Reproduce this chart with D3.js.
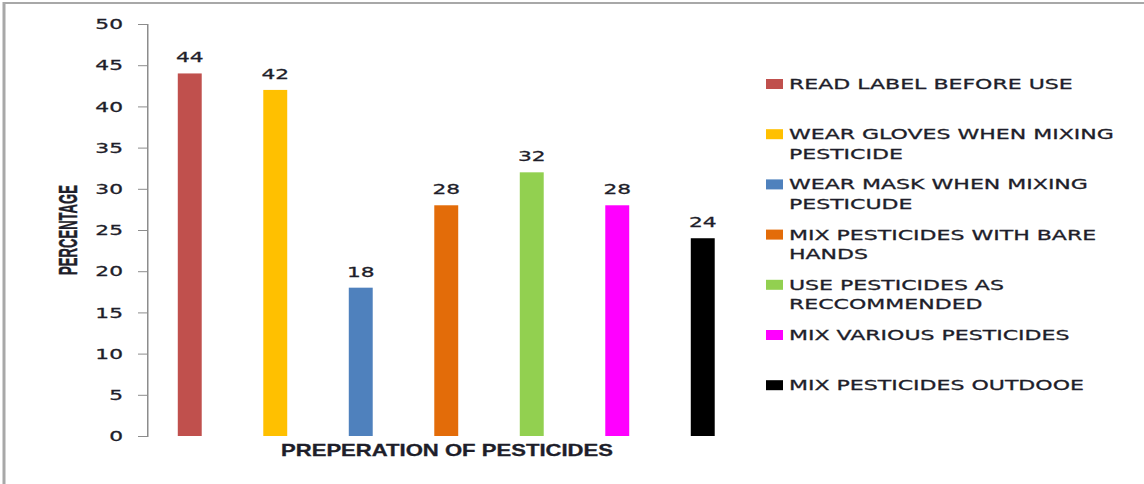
<!DOCTYPE html>
<html>
<head>
<meta charset="utf-8">
<script src="https://cdn.jsdelivr.net/npm/d3@7"></script>
<style>
body { margin: 0; background: #fff; }
text { font-family: "DejaVu Sans", Verdana, sans-serif; fill: #1e1e2a; stroke: #1e1e2a; stroke-width: 0.3px; }
</style>
</head>
<body>
<div id="graph1"></div>
<script>
// data
var categories = ["READ LABEL BEFORE USE", "WEAR GLOVES WHEN MIXING PESTICIDE", "WEAR MASK WHEN MIXING PESTICUDE",
  "MIX PESTICIDES WITH BARE HANDS", "USE PESTICIDES AS RECCOMMENDED", "MIX VARIOUS PESTICIDES", "MIX PESTICIDES OUTDOOE"];
var values = [44, 42, 18, 28, 32, 28, 24];
var colors = ["#C0504D", "#FFC000", "#4F81BD", "#E36C09", "#92D050", "#FF00FF", "#000000"];
var legendLines = [
  ["READ LABEL BEFORE USE"],
  ["WEAR GLOVES WHEN MIXING", "PESTICIDE"],
  ["WEAR MASK WHEN MIXING", "PESTICUDE"],
  ["MIX PESTICIDES WITH BARE", "HANDS"],
  ["USE PESTICIDES AS", "RECCOMMENDED"],
  ["MIX VARIOUS PESTICIDES"],
  ["MIX PESTICIDES OUTDOOE"]
];
var yTicks = [0, 5, 10, 15, 20, 25, 30, 35, 40, 45, 50];
var xTitle = "PREPERATION OF PESTICIDES";
var yTitle = "PERCENTAGE";

var W = 1144, H = 484;
var sx = 1.5; // the original picture is stretched sideways
var innerW = W / sx;

var svg = d3.select("#graph1")
  .append("svg")
    .attr("width", W)
    .attr("height", H);

var root = svg.append("g")
    .attr("transform", "scale(" + sx + ",1)");

// frame
root.append("path")
    .attr("d", "M" + (4 / sx) + "," + H + "V3H" + innerW)
    .attr("fill", "none")
    .attr("stroke", "#a8a8a8")
    .attr("stroke-width", 2);

var axisX = 147 / sx;
var plotTop = 24, plotBottom = 436;

var y = d3.scaleLinear()
    .domain([0, 50])
    .range([plotBottom, plotTop]);

var step = 85.5 / sx;
var x = d3.scaleBand()
    .domain(categories)
    .range([axisX, axisX + step * categories.length])
    .paddingInner(0.72)
    .paddingOuter(0.36);

var yAxis = root.append("g")
    .attr("transform", "translate(" + axisX + ",0)")
    .call(d3.axisLeft(y).tickValues(yTicks).tickSize(6).tickPadding(10));
yAxis.selectAll("path, line").attr("stroke", "#8c8c8c");
yAxis.selectAll("text")
    .style("font-family", "DejaVu Sans, Verdana, sans-serif")
    .style("font-size", "14.5px")
    .attr("fill", "#1e1e2a");

// bars
root.append("g")
  .selectAll("rect")
  .data(values)
  .enter().append("rect")
    .attr("x", function(d, i) { return x(categories[i]); })
    .attr("y", function(d) { return y(d); })
    .attr("width", x.bandwidth())
    .attr("height", function(d) { return y(0) - y(d); })
    .attr("fill", function(d, i) { return colors[i]; });

// value labels
root.append("g")
  .selectAll("text")
  .data(values)
  .enter().append("text")
    .attr("x", function(d, i) { return x(categories[i]) + x.bandwidth() / 2; })
    .attr("y", function(d) { return y(d) - 11; })
    .attr("text-anchor", "middle")
    .style("font-size", "14.5px")
    .text(function(d) { return d; });

// legend
var legend = root.append("g");
var item = legend.selectAll("g")
  .data(legendLines)
  .enter().append("g")
    .attr("transform", function(d, i) { return "translate(" + (766 / sx) + "," + (89 + i * 50.2) + ")"; });

item.append("rect")
    .attr("x", 0)
    .attr("y", -10)
    .attr("width", 17 / sx)
    .attr("height", 10)
    .attr("fill", function(d, i) { return colors[i]; });

item.append("text")
    .attr("x", 23 / sx)
    .style("font-size", "14.7px")
    .selectAll("tspan")
    .data(function(d) { return d; })
    .enter().append("tspan")
      .attr("x", 23 / sx)
      .attr("dy", function(d, i) { return i ? 19.5 : 0; })
      .text(function(d) { return d; });

// axis titles
root.append("text")
    .text(xTitle)
    .attr("x", 447 / sx)
    .attr("y", 456)
    .attr("text-anchor", "middle")
    .attr("textLength", 332 / sx)
    .attr("lengthAdjust", "spacingAndGlyphs")
    .style("font-family", "Liberation Sans Narrow, Liberation Sans, Arial, sans-serif")
    .style("font-weight", "bold")
    .style("font-size", "16px");

root.append("g")
    .attr("transform", "translate(" + (77 / sx) + "," + 230 + ")")
  .append("text")
    .text(yTitle)
    .attr("text-anchor", "middle")
    .attr("transform", "rotate(-90)")
    .attr("textLength", 90)
    .attr("lengthAdjust", "spacingAndGlyphs")
    .style("font-family", "Liberation Sans Narrow, Liberation Sans, Arial, sans-serif")
    .style("font-weight", "bold")
    .style("font-size", "17px");
</script>
</body>
</html>
